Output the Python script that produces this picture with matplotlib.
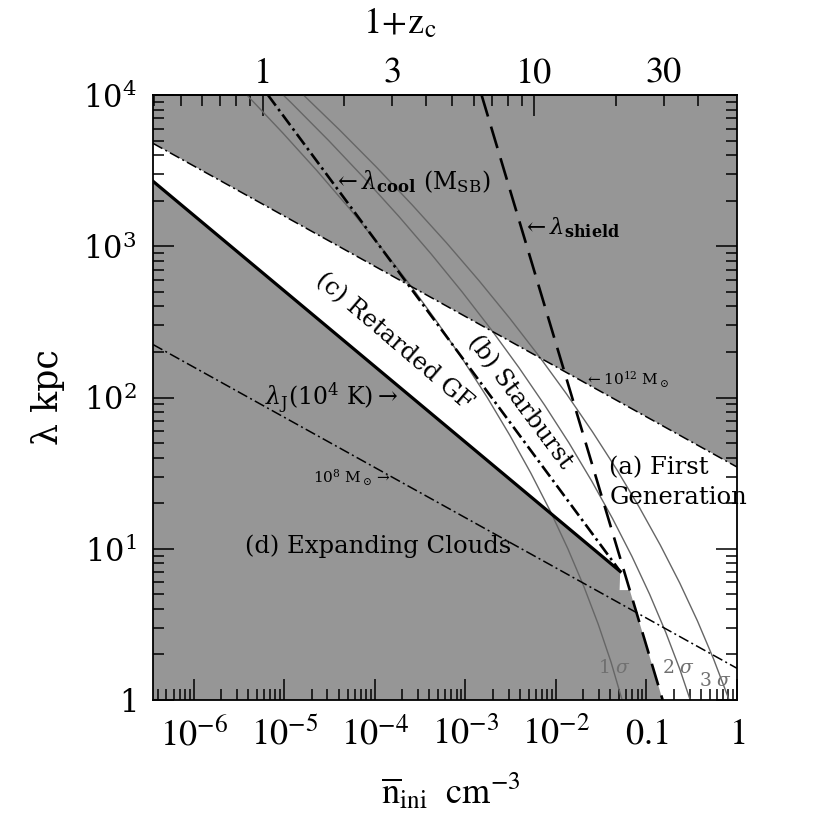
import numpy as np
import matplotlib
matplotlib.use('Agg')
import matplotlib.pyplot as plt
from matplotlib.ticker import FixedLocator, LogLocator, NullFormatter, FuncFormatter

plt.rcParams['font.family'] = ['DejaVu Serif']
plt.rcParams['mathtext.fontset'] = 'dejavuserif'

# axis ranges
n_lim = [3.55e-7, 1.0]       # cm^-3
lam_lim = [1.0, 1.0e4]       # kpc

x_ticks = [1e-6, 1e-5, 1e-4, 1e-3, 1e-2, 0.1, 1.0]
x_labels = [r'$10^{-6}$', r'$10^{-5}$', r'$10^{-4}$', r'$10^{-3}$', r'$10^{-2}$', r'$0.1$', r'$1$']
y_ticks = [1, 10, 100, 1000, 10000]
y_labels = [r'$1$', r'$10^{1}$', r'$10^{2}$', r'$10^{3}$', r'$10^{4}$']

# top axis 1+z_c
n_at_z1 = 5.75e-6
z_major = [1, 10]
z_minor = [0.4, 0.5, 0.6, 0.7, 0.8, 0.9, 2, 3, 4, 5, 6, 7, 8, 9, 20, 30, 40]
z_labelled = [3, 30]

# constant mass lines (10^12 and 10^8 Msun)
m12_n = [3.55e-7, 1.0]
m12_lam = [4790.0, 34.7]
m8_n = [3.55e-7, 1.0]
m8_lam = [224.0, 1.62]

# Jeans length at 1e4 K
jeans_n = [3.55e-7, 0.0513]
jeans_lam = [2690.0, 7.08]

# cooling length (M_SB)
cool_n = [6.6e-6, 0.0513]
cool_lam = [1.0e4, 7.08]

# shielding length
shield_n = [1.51e-3, 0.151]
shield_lam = [1.0e4, 1.0]

# small white step below the corner
notch_n = 0.0505
notch_lam = 5.33

# 1, 2, 3 sigma collapse curves (log10 n, log10 lambda)
sig1_logn = [-1.269, -1.391, -1.532, -1.691, -1.868, -2.063, -2.277, -2.509, -2.758,
             -3.027, -3.313, -3.617, -3.940, -4.281, -4.640, -5.018, -5.413]
sig1_loglam = [0.0, 0.25, 0.5, 0.75, 1.0, 1.25, 1.5, 1.75, 2.0,
               2.25, 2.5, 2.75, 3.0, 3.25, 3.5, 3.75, 4.0]
sig2_logn = [-0.488, -0.629, -0.788, -0.965, -1.160, -1.374, -1.606, -1.855, -2.124,
             -2.410, -2.714, -3.037, -3.378, -3.737, -4.115, -4.510, -4.924, -5.356]
sig2_loglam = [-0.051, 0.199, 0.449, 0.699, 0.949, 1.199, 1.449, 1.699, 1.949,
               2.199, 2.449, 2.699, 2.949, 3.199, 3.449, 3.699, 3.949, 4.199]
sig3_logn = [0.040, -0.101, -0.260, -0.437, -0.632, -0.846, -1.078, -1.327, -1.596,
             -1.882, -2.186, -2.509, -2.850, -3.209, -3.587, -3.982, -4.396, -4.828]
sig3_loglam = [-0.227, 0.023, 0.273, 0.523, 0.773, 1.023, 1.273, 1.523, 1.773,
               2.023, 2.273, 2.523, 2.773, 3.023, 3.273, 3.523, 3.773, 4.023]

gray_fill = '#969696'
sig_color = '#666666'

fig = plt.figure(figsize=(8.3, 8.3), dpi=100)
ax = fig.add_axes([153 / 830, 130 / 830, 584 / 830, 605 / 830])
ax.set_facecolor(gray_fill)
ax.set_xscale('log')
ax.set_yscale('log')
ax.set_xlim(n_lim)
ax.set_ylim(lam_lim)

# white allowed region
log_sh_n = np.log10(shield_n)[::-1]
log_sh_lam = np.log10(shield_lam)[::-1]
shield_at_notch = 10 ** np.interp(np.log10(notch_lam), log_sh_lam, log_sh_n)
poly_n = [m12_n[0], m12_n[1], n_lim[1], shield_n[1], shield_at_notch, notch_n,
          jeans_n[1], jeans_n[0]]
poly_lam = [m12_lam[0], m12_lam[1], lam_lim[0], shield_lam[1], notch_lam, notch_lam,
            jeans_lam[1], jeans_lam[0]]
ax.fill(poly_n, poly_lam, color='white', lw=0, zorder=1)

# sigma curves
for ln, ll in [(sig1_logn, sig1_loglam), (sig2_logn, sig2_loglam), (sig3_logn, sig3_loglam)]:
    ax.plot(10 ** np.array(ln), 10 ** np.array(ll), color=sig_color, lw=1.0, zorder=2)

# boundary lines
ax.plot(m12_n, m12_lam, color='black', lw=1.1, ls=(0, (7, 2.2, 1.3, 2.2)), zorder=3)
ax.plot(m8_n, m8_lam, color='black', lw=1.1, ls=(0, (7, 2.2, 1.3, 2.2)), zorder=3)
ax.plot(jeans_n, jeans_lam, color='black', lw=2.3, zorder=3)
ax.plot(cool_n, cool_lam, color='black', lw=1.9, ls=(0, (5.0, 1.6, 1.0, 1.6)), zorder=3)
ax.plot(shield_n, shield_lam, color='black', lw=1.9, ls=(0, (8.5, 4.0)), zorder=3)

# ticks
ax.set_xticks(x_ticks, x_labels, fontsize=26, math_fontfamily='stix')
ax.xaxis.set_minor_locator(LogLocator(base=10, subs=np.arange(2, 10), numticks=20))
ax.xaxis.set_minor_formatter(NullFormatter())
ax.set_yticks(y_ticks, y_labels, fontsize=22)
ax.yaxis.set_minor_locator(LogLocator(base=10, subs=np.arange(2, 10), numticks=20))
ax.yaxis.set_minor_formatter(NullFormatter())
ax.tick_params(which='both', direction='in', top=False, right=True, width=1.1)
ax.tick_params(which='major', length=15)
ax.tick_params(which='minor', length=8)
ax.tick_params(axis='x', which='major', pad=12)
ax.tick_params(axis='y', which='major', pad=12)
for sp in ax.spines.values():
    sp.set_linewidth(1.3)

sec = ax.secondary_xaxis('top', functions=(lambda n: np.cbrt(np.asarray(n) / n_at_z1),
                                           lambda z: n_at_z1 * np.asarray(z) ** 3))
sec.xaxis.set_major_locator(FixedLocator(z_major))
sec.xaxis.set_minor_locator(FixedLocator(z_minor))
sec.xaxis.set_major_formatter(FuncFormatter(lambda v, p: f'{v:g}'))
sec.xaxis.set_minor_formatter(FuncFormatter(lambda v, p: f'{v:g}' if round(v) in z_labelled and abs(v - round(v)) < 1e-6 else ''))
sec.tick_params(which='both', direction='in', width=1.1, labelsize=26, labelfontfamily='STIXGeneral')
sec.tick_params(which='major', length=15, pad=3)
sec.tick_params(which='minor', length=8, pad=3)
sec.spines['top'].set_linewidth(1.3)

# axis labels
ax.set_xlabel(r'$\overline{\rm n}_{\rm ini}\ \ {\rm cm}^{-3}$', fontsize=26, math_fontfamily='stix')
ax.xaxis.set_label_coords(0.51, -0.15)
ax.xaxis.label.set_va('center')
ax.set_ylabel('λ kpc', fontsize=25)
ax.yaxis.set_label_coords(-0.18, 0.5)
ax.yaxis.label.set_va('center')
ax.text(0.423, 1.12, r'$1\!+\!{\rm z}_{\rm c}$', transform=ax.transAxes, fontsize=26,
        math_fontfamily='stix', ha='center', va='center')

# annotations
big = 17.5
ax.text(1.08e-4, 10.4, '(d) Expanding Clouds', fontsize=big, ha='center', va='center', zorder=4)
ax.text(1.62e-4, 233, '(c) Retarded GF', fontsize=big, ha='center', va='center',
        rotation=-40.5, rotation_mode='anchor', zorder=4)
ax.text(4.0e-3, 93.3, '(b) Starburst', fontsize=big, ha='center', va='center',
        rotation=-53.5, rotation_mode='anchor', zorder=4)
ax.text(0.0390, 34.2, '(a) First', fontsize=big, ha='left', va='center', zorder=4)
ax.text(0.0395, 21.7, 'Generation', fontsize=big, ha='left', va='center', zorder=4)
ax.text(3.35e-5, 99.3, r'$\lambda_{\rm J}$(10$^4$ K)$\rightarrow$', fontsize=17,
        ha='center', va='center', zorder=4)
ax.text(5.57e-5, 29.4, r'10$^8$ M$_\odot$$\rightarrow$', fontsize=11,
        ha='center', va='center', zorder=4)
ax.text(0.0209, 130.6, r'$\leftarrow$10$^{12}$ M$_\odot$', fontsize=11,
        ha='left', va='center', zorder=4)
ax.text(3.44e-5, 2660, r'$\leftarrow\lambda_{\bf cool}$ (M$_{\rm SB}$)', fontsize=17,
        ha='left', va='center', zorder=4)
ax.text(4.21e-3, 1321, r'$\leftarrow\lambda_{\bf shield}$', fontsize=16.5,
        ha='left', va='center', zorder=4)

# sigma labels
ax.text(0.0449, 1.63, r'1 $\sigma$', fontsize=13.5, color='#707070', ha='center', va='center', zorder=4)
ax.text(0.2286, 1.63, r'2 $\sigma$', fontsize=13.5, color='#707070', ha='center', va='center', zorder=4)
ax.text(0.586, 1.335, r'3 $\sigma$', fontsize=13.5, color='#707070', ha='center', va='center', zorder=4)

fig.savefig('out.png', dpi=100)
